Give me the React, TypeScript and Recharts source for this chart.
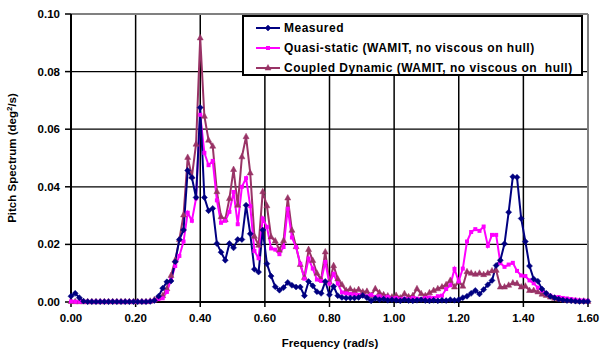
import React from 'react';
import {
  LineChart, Line, XAxis, YAxis, CartesianGrid, ReferenceLine, Label
} from 'recharts';

// frequency resolution of the spectra (rad/s)
const FREQ_STEP = 0.0129;

const xTicks = [0, 0.2, 0.4, 0.6, 0.8, 1.0, 1.2, 1.4, 1.6];
const yTicks = [0, 0.02, 0.04, 0.06, 0.08, 0.1];

const measured = [
  0.0020, 0.0030, 0.0015, 0.0003, 0.0001, 0.0001, 0.0001, 0.0001, 0.0001, 0.0001,
  0.0001, 0.0001, 0.0001, 0.0001, 0.0001, 0.0001, 0.0001, 0.0001, 0.0001, 0.0002,
  0.0005, 0.0020, 0.0048, 0.0070, 0.0073, 0.0140, 0.0217, 0.0250, 0.0457, 0.0432,
  0.0363, 0.0675, 0.0363, 0.0317, 0.0325, 0.0203, 0.0173, 0.0145, 0.0203, 0.0188,
  0.0217, 0.0217, 0.0336, 0.0237, 0.0114, 0.0104, 0.0250, 0.0133, 0.0090, 0.0053,
  0.0041, 0.0050, 0.0068, 0.0058, 0.0052, 0.0052, 0.0022, 0.0071, 0.0056, 0.0036,
  0.0030, 0.0071, 0.0025, 0.0054, 0.0022, 0.0016, 0.0014, 0.0014, 0.0014, 0.0016,
  0.0023, 0.0015, 0.0004, 0.0012, 0.0008, 0.0010, 0.0006, 0.0008, 0.0006, 0.0004,
  0.0008, 0.0005, 0.0004, 0.0006, 0.0008, 0.0005, 0.0004, 0.0006, 0.0004, 0.0006,
  0.0005, 0.0008, 0.0006, 0.0008, 0.0015, 0.0020, 0.0030, 0.0040, 0.0028, 0.0043,
  0.0060, 0.0075, 0.0127, 0.0145, 0.0202, 0.0312, 0.0435, 0.0433, 0.0290, 0.0210,
  0.0125, 0.0080, 0.0072, 0.0045, 0.0030, 0.0020, 0.0015, 0.0010, 0.0007, 0.0005,
  0.0004, 0.0003, 0.0002, 0.0002, 0.0002,
];

const quasiStatic = [
  0.0002, 0.0001, 0.0001, 0.0001, 0.0001, 0.0001, 0.0001, 0.0001, 0.0001, 0.0001,
  0.0001, 0.0001, 0.0001, 0.0001, 0.0001, 0.0001, 0.0001, 0.0001, 0.0001, 0.0002,
  0.0005, 0.0010, 0.0013, 0.0035, 0.0077, 0.0125, 0.0160, 0.0210, 0.0310, 0.0282,
  0.0360, 0.0650, 0.0518, 0.0475, 0.0490, 0.0353, 0.0275, 0.0282, 0.0313, 0.0382,
  0.0270, 0.0400, 0.0430, 0.0333, 0.0177, 0.0152, 0.0290, 0.0261, 0.0186, 0.0182,
  0.0166, 0.0191, 0.0324, 0.0224, 0.0191, 0.0133, 0.0081, 0.0151, 0.0116, 0.0078,
  0.0073, 0.0139, 0.0064, 0.0098, 0.0064, 0.0033, 0.0030, 0.0028, 0.0026, 0.0025,
  0.0022, 0.0020, 0.0025, 0.0018, 0.0020, 0.0015, 0.0018, 0.0012, 0.0014, 0.0010,
  0.0012, 0.0010, 0.0014, 0.0012, 0.0010, 0.0014, 0.0016, 0.0014, 0.0020, 0.0022,
  0.0045, 0.0058, 0.0115, 0.0072, 0.0116, 0.0210, 0.0243, 0.0253, 0.0247, 0.0262,
  0.0195, 0.0233, 0.0233, 0.0135, 0.0122, 0.0130, 0.0136, 0.0108, 0.0092, 0.0090,
  0.0075, 0.0065, 0.0050, 0.0040, 0.0030, 0.0022, 0.0017, 0.0017, 0.0014, 0.0012,
  0.0010, 0.0008, 0.0006, 0.0005, 0.0004,
];

const coupledDynamic = [
  0.0002, 0.0001, 0.0001, 0.0001, 0.0001, 0.0001, 0.0001, 0.0001, 0.0001, 0.0001,
  0.0001, 0.0001, 0.0001, 0.0001, 0.0001, 0.0001, 0.0001, 0.0001, 0.0001, 0.0003,
  0.0008, 0.0015, 0.0022, 0.0046, 0.0092, 0.0145, 0.0217, 0.0302, 0.0502, 0.0435,
  0.0548, 0.0917, 0.0645, 0.0562, 0.0541, 0.0383, 0.0296, 0.0286, 0.0359, 0.0460,
  0.0336, 0.0504, 0.0574, 0.0448, 0.0228, 0.0197, 0.0383, 0.0334, 0.0226, 0.0212,
  0.0180, 0.0213, 0.0361, 0.0249, 0.0192, 0.0130, 0.0085, 0.0182, 0.0144, 0.0100,
  0.0078, 0.0174, 0.0070, 0.0126, 0.0080, 0.0060, 0.0040, 0.0045, 0.0038, 0.0043,
  0.0035, 0.0037, 0.0023, 0.0046, 0.0032, 0.0025, 0.0021, 0.0017, 0.0023, 0.0014,
  0.0029, 0.0018, 0.0022, 0.0046, 0.0029, 0.0022, 0.0032, 0.0040, 0.0046, 0.0052,
  0.0060, 0.0075, 0.0052, 0.0070, 0.0055, 0.0105, 0.0100, 0.0096, 0.0100, 0.0095,
  0.0100, 0.0108, 0.0110, 0.0052, 0.0052, 0.0058, 0.0066, 0.0064, 0.0052, 0.0055,
  0.0040, 0.0040, 0.0035, 0.0027, 0.0023, 0.0017, 0.0013, 0.0010, 0.0008, 0.0006,
  0.0005, 0.0004, 0.0003, 0.0003, 0.0002,
];

const seriesNames = [
  'Measured',
  'Quasi-static (WAMIT, no viscous on hull)',
  'Coupled Dynamic (WAMIT, no viscous on  hull)',
];

const NAVY = '#000080';
const MAGENTA = '#FF00FF';
const PLUM = '#993366';
const FONT = 'Arial, "Liberation Sans", sans-serif';

const data = measured.map((m, i) => ({
  f: +(i * FREQ_STEP).toFixed(4),
  measured: m,
  quasi: quasiStatic[i],
  coupled: coupledDynamic[i],
}));

// marker shapes
const diamond = (cx: number, cy: number, color: string, key?: any) => (
  <path key={key} d={`M${cx},${cy - 3}L${cx + 3},${cy}L${cx},${cy + 3}L${cx - 3},${cy}Z`} fill={color} stroke={color} strokeWidth={0.5} />
);
const square = (cx: number, cy: number, color: string, key?: any) => (
  <rect key={key} x={cx - 2} y={cy - 2} width={4} height={4} fill={color} />
);
const triangle = (cx: number, cy: number, color: string, key?: any) => (
  <path key={key} d={`M${cx},${cy - 3.5}L${cx + 3},${cy + 2}L${cx - 3},${cy + 2}Z`} fill={color} stroke={color} strokeWidth={0.5} />
);

const legendItems = [
  { name: seriesNames[0], color: NAVY, marker: diamond },
  { name: seriesNames[1], color: MAGENTA, marker: square },
  { name: seriesNames[2], color: PLUM, marker: triangle },
];

const App: React.FC = () => {
  return (
    <div style={{ position: 'absolute', left: 0, top: 0, width: 601, height: 353, background: '#fff', fontFamily: FONT }}>
      <LineChart width={601} height={353} data={data} margin={{ top: 14, right: 13, left: 0, bottom: 0 }}>
        <CartesianGrid stroke="#000" strokeWidth={1.5} horizontal={false} />
        <CartesianGrid stroke="#000" strokeWidth={1.2} vertical={false} />
        <XAxis
          dataKey="f"
          type="number"
          domain={[0, 1.6]}
          ticks={xTicks}
          tickFormatter={(v: number) => v.toFixed(2)}
          height={51}
          axisLine={{ stroke: '#000', strokeWidth: 2 }}
          tickLine={{ stroke: '#000', strokeWidth: 1.5 }}
          tickSize={5}
          tickMargin={7}
          tick={{ fill: '#000', fontSize: 11.5, fontWeight: 700, fontFamily: FONT }}
          interval={0}
        >
          <Label
            content={() => (
              <text x={330} y={347} textAnchor="middle" fontSize={11.5} fontWeight={700} fontFamily={FONT} fill="#000">
                Frequency (rad/s)
              </text>
            )}
          />
        </XAxis>
        <YAxis
          type="number"
          domain={[0, 0.1]}
          ticks={yTicks}
          tickFormatter={(v: number) => v.toFixed(2)}
          width={71}
          axisLine={{ stroke: '#000', strokeWidth: 2 }}
          tickLine={{ stroke: '#000', strokeWidth: 1.5 }}
          tickSize={6}
          tickMargin={5}
          tick={{ fill: '#000', fontSize: 11.5, fontWeight: 700, fontFamily: FONT }}
          interval={0}
        >
          <Label
            content={() => (
              <text x={16} y={158} transform="rotate(-90 16 158)" textAnchor="middle" fontSize={11.5} fontWeight={700} fontFamily={FONT} fill="#000">
                Pitch Spectrum (deg<tspan dy={-4} fontSize={8}>2</tspan><tspan dy={4}>/s)</tspan>
              </text>
            )}
          />
        </YAxis>
        <ReferenceLine y={0.1} stroke="#808080" strokeWidth={2} />
        <ReferenceLine x={1.6} stroke="#808080" strokeWidth={2} />
        <Line
          type="linear"
          dataKey="coupled"
          name={seriesNames[2]}
          stroke={PLUM}
          strokeWidth={2}
          dot={(p: any) => triangle(p.cx, p.cy, PLUM, `c-${p.index}`)}
          activeDot={false}
          isAnimationActive={false}
        />
        <Line
          type="linear"
          dataKey="quasi"
          name={seriesNames[1]}
          stroke={MAGENTA}
          strokeWidth={2}
          dot={(p: any) => square(p.cx, p.cy, MAGENTA, `q-${p.index}`)}
          activeDot={false}
          isAnimationActive={false}
        />
        <Line
          type="linear"
          dataKey="measured"
          name={seriesNames[0]}
          stroke={NAVY}
          strokeWidth={2}
          dot={(p: any) => diamond(p.cx, p.cy, NAVY, `m-${p.index}`)}
          activeDot={false}
          isAnimationActive={false}
        />
      </LineChart>

      {/* legend box */}
      <div
        style={{
          position: 'absolute', left: 242, top: 15, width: 341, height: 61,
          border: '2px solid #000', background: '#fff', boxSizing: 'border-box',
        }}
      >
        {legendItems.map((item, i) => (
          <div key={item.name} style={{ position: 'absolute', left: 0, top: 4 + i * 20, height: 14, display: 'flex', alignItems: 'center' }}>
            <svg width={40} height={14} style={{ display: 'block' }}>
              <line x1={12} y1={7} x2={36} y2={7} stroke={item.color} strokeWidth={2} />
              {item.marker(24, 7, item.color)}
            </svg>
            <span style={{ fontSize: 12, fontWeight: 700, whiteSpace: 'pre', color: '#000', letterSpacing: 0.5 }}>{item.name}</span>
          </div>
        ))}
      </div>
    </div>
  );
};

export default App;
